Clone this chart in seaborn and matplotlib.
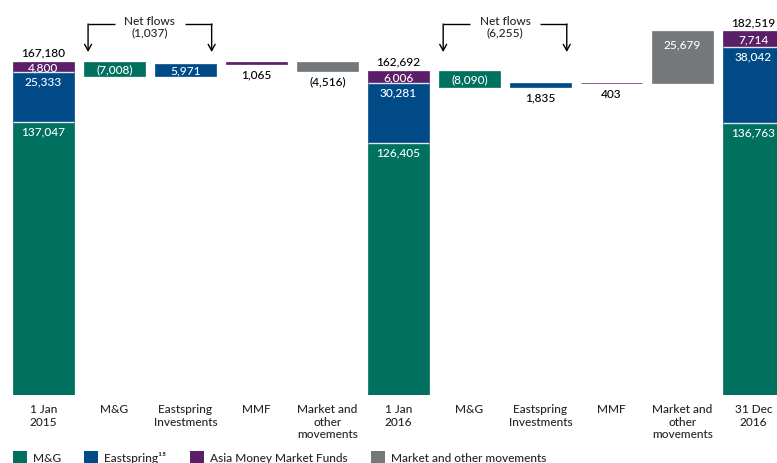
import numpy as np
import pandas as pd
import matplotlib
matplotlib.use("Agg")
import matplotlib.pyplot as plt
import matplotlib.transforms as mtrans
from matplotlib.patches import Patch
import seaborn as sns

# ---------------- data ----------------
series = ["M&G", "Eastspring", "Asia Money Market Funds", "Market and other movements"]
legend_labels = ["M&G", "Eastspring¹⁵", "Asia Money Market Funds", "Market and other movements"]
colors = ["#00705F", "#004B87", "#5B1F69", "#75787B"]

start_2015 = [137047, 25333, 4800]          # M&G, Eastspring, MMF
flows_2015 = [-7008, 5971, 1065, -4516]     # M&G, Eastspring, MMF, Market
start_2016 = [126405, 30281, 6006]
flows_2016 = [-8090, 1835, 403, 25679]
end_2016 = [136763, 38042, 7714]

tick_labels = ["1 Jan\n2015", "M&G", "Eastspring\nInvestments", "MMF",
               "Market and\nother\nmovements", "1 Jan\n2016", "M&G",
               "Eastspring\nInvestments", "MMF", "Market and\nother\nmovements",
               "31 Dec\n2016"]

# ---------------- style ----------------
sns.set_style("white")
plt.rcParams["font.family"] = ["Lato", "DejaVu Sans"]
plt.rcParams["font.weight"] = "medium"
FS = 8.6

# ---------------- build waterfall segments ----------------
rows = []
pos = 0
def add_stack(vals, pos):
    b = 0
    for layer, v in enumerate(vals):
        rows.append(dict(pos=pos, layer=layer, bottom=b, height=v, value=v, kind="stack"))
        b += v
    return b

def add_flows(flows, level, pos):
    for layer, v in enumerate(flows):
        rows.append(dict(pos=pos, layer=layer, bottom=min(level, level + v),
                         height=abs(v), value=v, kind="flow"))
        level += v
        pos += 1
    return level, pos

totals = {}
lvl = add_stack(start_2015, pos); totals[pos] = lvl; pos += 1
flow_start_2015 = pos
lvl, pos = add_flows(flows_2015, lvl, pos)
lvl = add_stack(start_2016, pos); totals[pos] = lvl; pos += 1
flow_start_2016 = pos
lvl, pos = add_flows(flows_2016, lvl, pos)
lvl = add_stack(end_2016, pos); totals[pos] = lvl; pos += 1
df = pd.DataFrame(rows)
npos = pos

# ---------------- figure ----------------
W, H = 777, 464
fig = plt.figure(figsize=(W / 100, H / 100), dpi=100)
ax_bottom_px = 68
ax = fig.add_axes([0, ax_bottom_px / H, 1, (H - ax_bottom_px) / H])

BW = 0.86
positions = np.arange(npos)
for layer in range(len(series)):
    sub = df[df.layer == layer]
    heights = np.zeros(npos)
    bottoms = np.full(npos, -1e6)       # positions without this series: out of view
    heights[sub.pos.values] = sub.height.values
    bottoms[sub.pos.values] = sub.bottom.values
    sns.barplot(x=positions, y=heights, bottom=bottoms, width=BW,
                color=colors[layer], saturation=1, edgecolor=colors[layer],
                linewidth=0.5, errorbar=None, ax=ax)

# thin light separators between stacked segments
stk = df[(df.kind == "stack") & (df.layer > 0)]
ax.hlines(stk.bottom.values, stk.pos.values - BW / 2, stk.pos.values + BW / 2,
          color="#dfe8f0", lw=1.0, zorder=5)

ax.set_xlim(-0.61, 10.33)
ax.set_ylim(0, 198800)
px_per_unit = (H - ax_bottom_px) / 198800
for s in ax.spines.values():
    s.set_visible(False)
ax.set_yticks([])
ax.set_ylabel("")
ax.set_xticks(positions)
ax.set_xticklabels(tick_labels, fontsize=FS, linespacing=1.15)
ax.tick_params(axis="x", length=0, pad=6)

def fmt(v):
    s = f"{abs(v):,}"
    return f"({s})" if v < 0 else s

# ---------------- labels ----------------
for r in df.itertuples():
    top = r.bottom + r.height
    if r.kind == "stack":
        if r.layer == 2:
            ax.annotate(fmt(r.value), (r.pos, r.bottom + r.height / 2), xytext=(0, 0),
                        textcoords="offset points", ha="center", va="center",
                        color="white", fontsize=FS)
        else:
            ax.annotate(fmt(r.value), (r.pos, top), xytext=(0, -2.5), textcoords="offset points",
                        ha="center", va="top", color="white", fontsize=FS)
    else:
        hpx = r.height * px_per_unit
        if abs(r.value) >= 5000:
            if hpx < 20:
                ax.annotate(fmt(r.value), (r.pos, r.bottom + r.height / 2), xytext=(0, 0),
                            textcoords="offset points", ha="center", va="center",
                            color="white", fontsize=FS)
            else:
                ax.annotate(fmt(r.value), (r.pos, top), xytext=(0, -5),
                            textcoords="offset points", ha="center", va="top",
                            color="white", fontsize=FS)
        else:
            ax.annotate(fmt(r.value), (r.pos, r.bottom), xytext=(0, -3),
                        textcoords="offset points", ha="center", va="top",
                        color="black", fontsize=FS)

for p, t in totals.items():
    ax.annotate(fmt(t), (p, t), xytext=(0, 3), textcoords="offset points",
                ha="center", va="bottom", color="black", fontsize=FS)

# ---------------- net flow brackets ----------------
trans = mtrans.blended_transform_factory(ax.transData, ax.transAxes)
y_line = 1 - 25 / 396
y_tip = 1 - 53 / 396
y_text = 1 - 27 / 396
for p1, flows in [(flow_start_2015, flows_2015), (flow_start_2016, flows_2016)]:
    p2 = p1 + 1
    net = flows[0] + flows[1]
    ax.text((p1 + p2) / 2, y_text, f"Net flows\n{fmt(net)}", transform=trans,
            ha="center", va="center", fontsize=FS, linespacing=1.1)
    for xa, xb in [(p1 - 0.37, p1 + 0.01), (p2 + 0.37, p2 - 0.01)]:
        ax.plot([xa, xb], [y_line, y_line], transform=trans, color="black", lw=1,
                clip_on=False, solid_capstyle="butt")
        ax.annotate("", xy=(xa, y_tip), xytext=(xa, y_line), xycoords=trans,
                    textcoords=trans,
                    arrowprops=dict(arrowstyle="->,head_length=0.45,head_width=0.25",
                                    color="black", lw=1, shrinkA=0, shrinkB=0))

# ---------------- legend ----------------
handles = [Patch(facecolor=c, edgecolor="none") for c in colors]
fig.legend(handles, legend_labels, loc="center left", bbox_to_anchor=(13 / W, 6 / H),
           ncol=4, frameon=False, fontsize=FS, handlelength=1.17, handleheight=1.17,
           handletextpad=0.5, columnspacing=1.95, borderpad=0, borderaxespad=0)

fig.savefig("out.png", dpi=100)
